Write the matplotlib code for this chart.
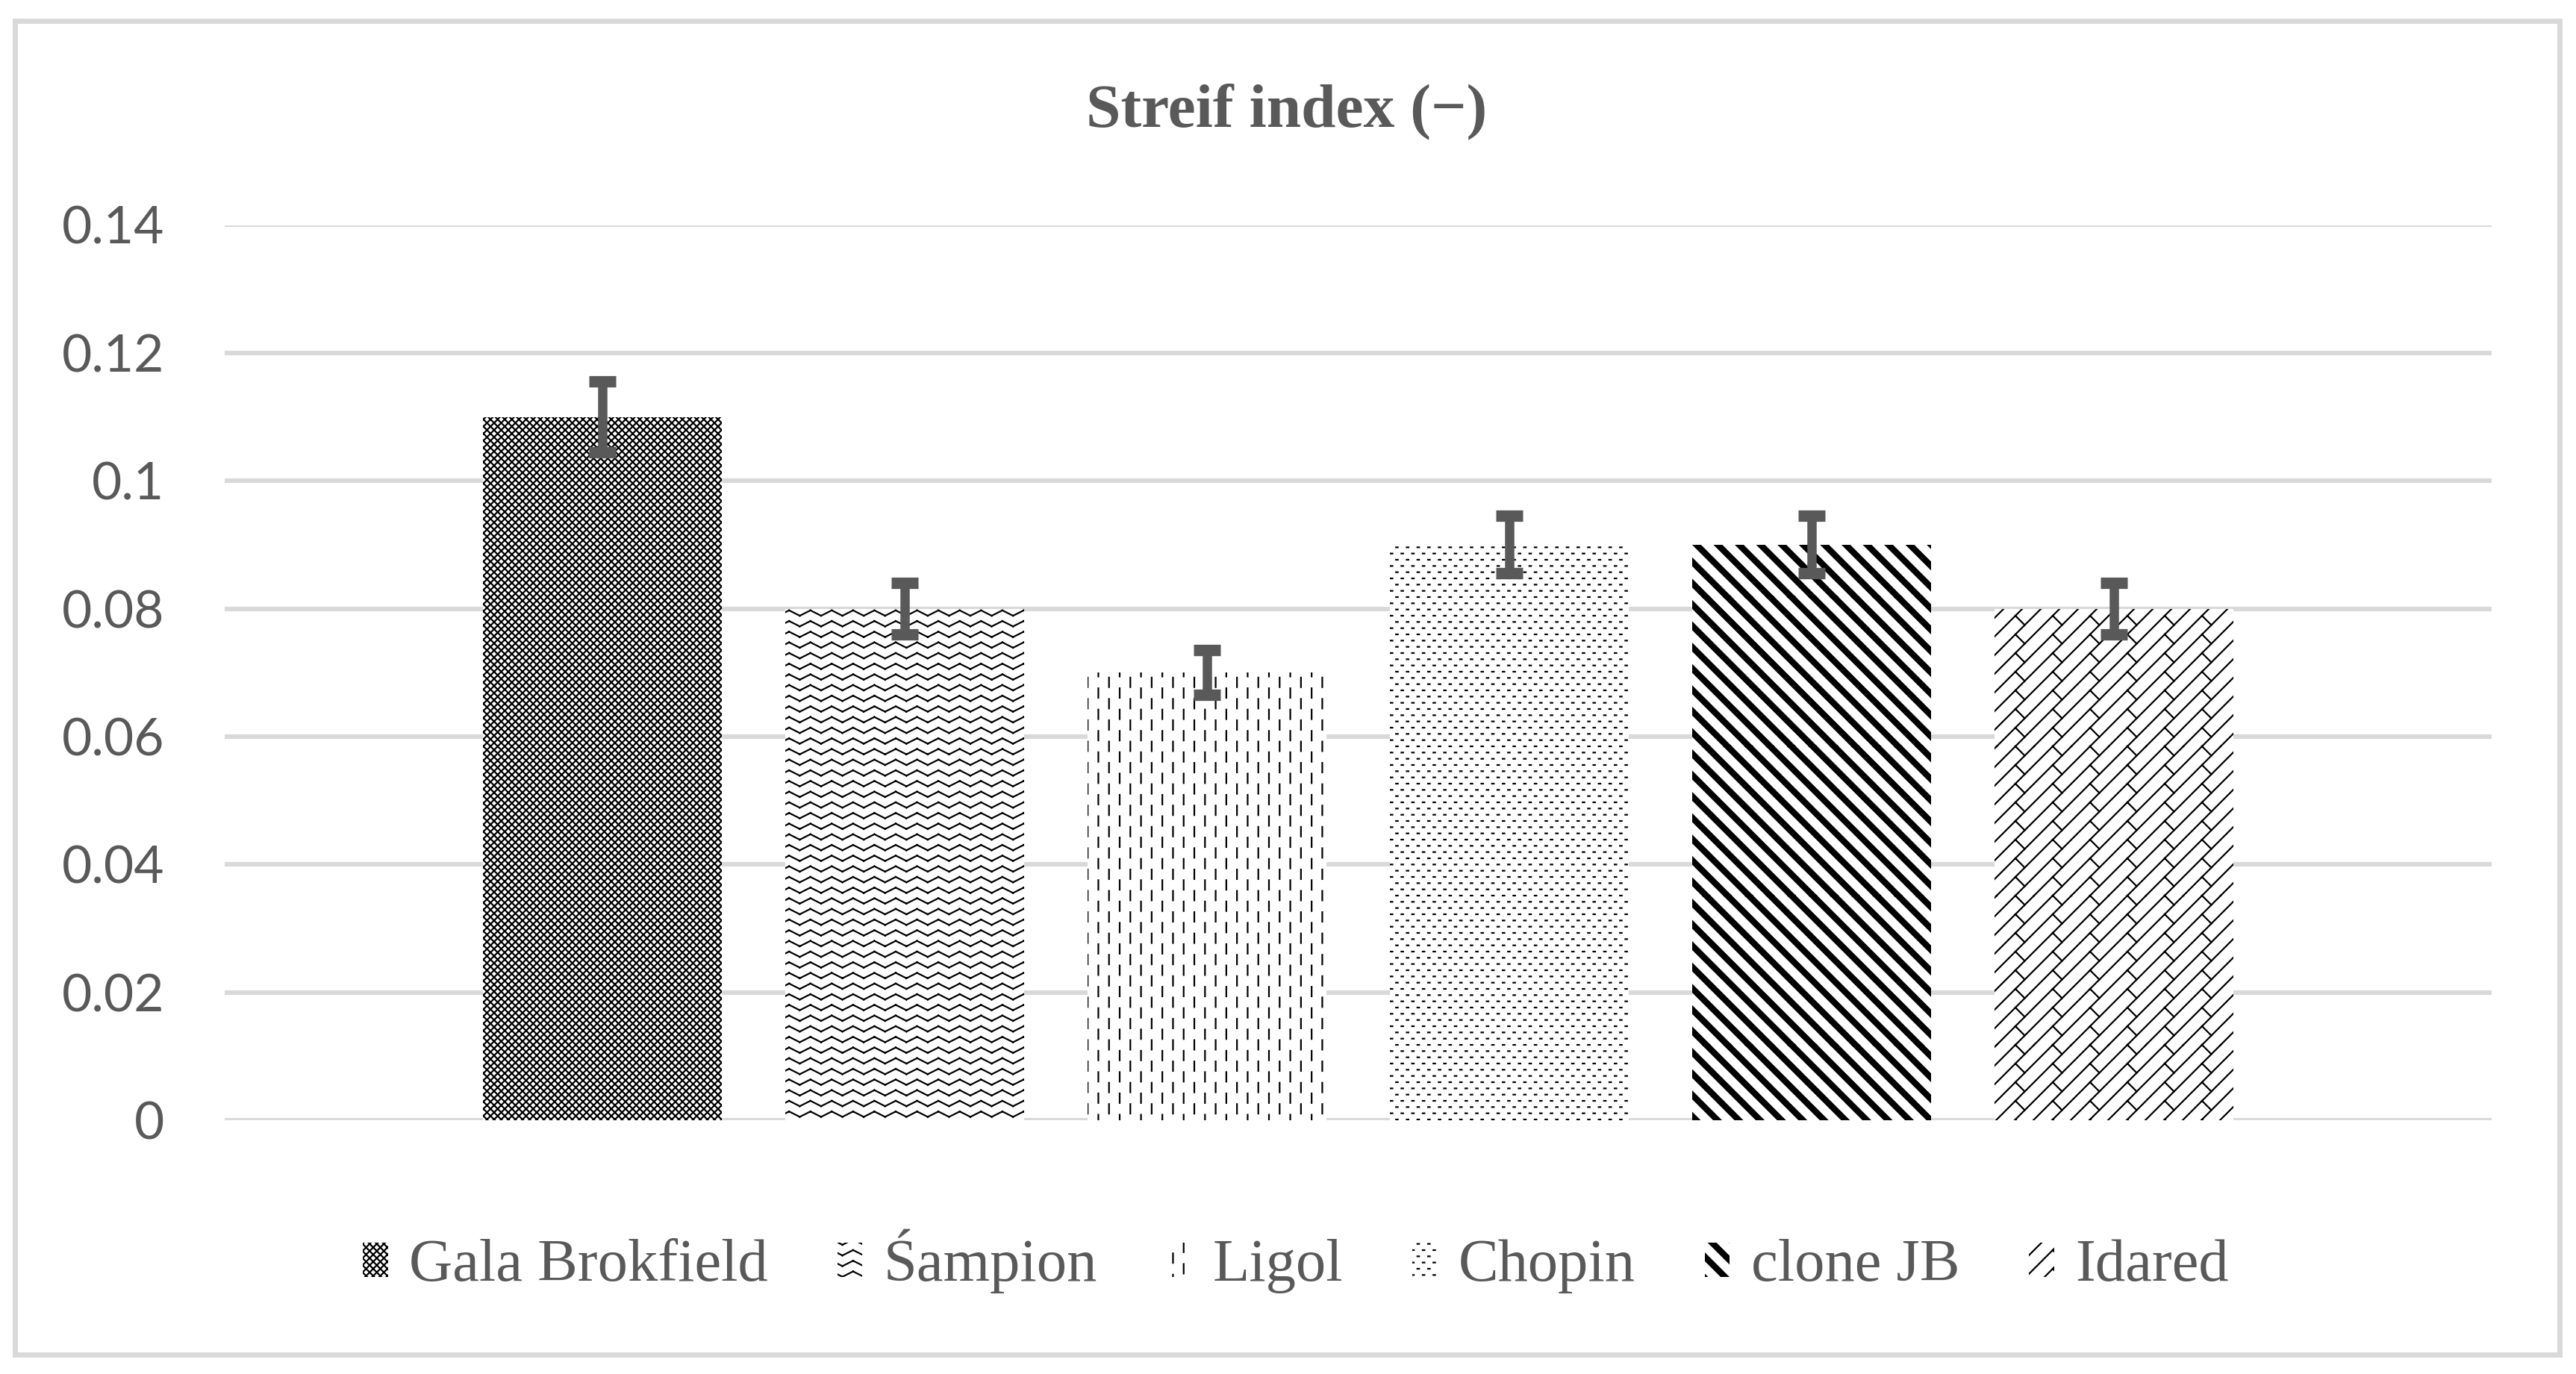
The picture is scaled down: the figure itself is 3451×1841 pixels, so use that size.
import warnings
import numpy as np
import matplotlib
matplotlib.use("Agg")
import matplotlib.pyplot as plt
import matplotlib.hatch as mhatch
from matplotlib.path import Path
from matplotlib.patches import Rectangle

warnings.filterwarnings("ignore")

# data
cultivars = ["Gala Brokfield", "Śampion", "Ligol", "Chopin", "clone JB", "Idared"]
streif = [0.11, 0.08, 0.07, 0.09, 0.09, 0.08]
streif_err = [0.0055, 0.004, 0.0035, 0.0045, 0.0045, 0.004]
yticks = [0, 0.02, 0.04, 0.06, 0.08, 0.1, 0.12, 0.14]
ytick_labels = ["0", "0.02", "0.04", "0.06", "0.08", "0.1", "0.12", "0.14"]
hatches = ["xxxxxxx", "~", ":", ";", "w", "z"]

grey = "#595959"
light = "#d9d9d9"


# --- custom hatch patterns (Excel-like fills) ---
def tile(segs):
    segs = np.asarray(segs, float).reshape(-1, 4)
    out = [segs + [dx, dy, dx, dy] for dx in (-1, 0, 1) for dy in (-1, 0, 1)]
    return np.vstack(out)


def add_hatch(char, maker):
    class CustomHatch(mhatch.HatchPatternBase):
        def __init__(self, hatch, density):
            n = hatch.count(char) if hatch else 0
            self.segs = tile(maker(n)) if n else np.empty((0, 4))
            self.num_vertices = 2 * len(self.segs)

        def set_vertices_and_codes(self, vertices, codes):
            vertices[0::2] = self.segs[:, :2]
            vertices[1::2] = self.segs[:, 2:]
            codes[0::2] = Path.MOVETO
            codes[1::2] = Path.LINETO
    mhatch._hatch_types.append(CustomHatch)


def zigzag(n):
    rows, teeth, amp = 14 * n, 7, 0.018
    segs = []
    for r in range(rows):
        y0 = (r + 0.5) / rows
        for i in range(2 * teeth):
            s0 = 1 if i % 2 == 0 else -1
            segs.append([i / (2 * teeth), y0 + amp * s0,
                         (i + 1) / (2 * teeth), y0 - amp * s0])
    return segs


def dashes(n):
    k, half = 7 * n, 0.032
    segs = []
    for i in range(k):
        for j in range(k):
            for off in (0, 0.5):
                x = (i + off) / k
                y = (j + off) / k
                segs.append([x, y - half, x, y + half])
    return segs


def dots(n):
    cols, rows, d = 14 * n, 24 * n, 0.006
    segs = []
    for r in range(rows):
        off = 0.5 * (r % 2)
        for c in range(cols):
            x = (c + off) / cols
            y = r / rows
            segs.append([x - d, y, x + d, y])
    return segs


def thick_back(n):
    k = 7 * n
    segs = []
    for i in range(k):
        for w in np.linspace(-0.022, 0.022, 7):
            x = i / k + w
            segs.append([x, 1, x + 1, 0])
    return segs


def brick(n):
    k, m = 8 * n, 4 * n
    s = 1 / k
    segs = []
    for i in range(k):
        segs.append([i * s, 0, i * s + 1, 1])
        for j in range(m):
            t = (j + 0.5 * (i % 2)) / m
            x0 = i * s + t
            segs.append([x0, t, x0 + s / 2, t - s / 2])
    return segs


add_hatch("~", zigzag)
add_hatch(":", dashes)
add_hatch(";", dots)
add_hatch("w", thick_back)
add_hatch("z", brick)

plt.rcParams["hatch.linewidth"] = 0.8
plt.rcParams["hatch.color"] = "black"

fig = plt.figure(figsize=(17.255, 9.205), dpi=200)
ax = fig.add_axes([301 / 3451, 1 - 1501 / 1841,
                   (3338 - 301) / 3451, (1501 - 301.5) / 1841])

x = np.arange(len(cultivars))
for i in range(len(cultivars)):
    ax.bar(x[i], streif[i], width=0.79, color="white", edgecolor="black",
           linewidth=0, hatch=hatches[i], label=cultivars[i], zorder=2)

ax.errorbar(x, streif, yerr=streif_err, fmt="none", ecolor=grey,
            elinewidth=4.5, capsize=6.6, capthick=5.5, zorder=3)

ax.set_xlim(-1.25, 6.25)
ax.set_ylim(0, 0.14)
ax.set_yticks(yticks)
ax.set_yticklabels(ytick_labels, family="Lato", fontsize=25, color=grey)
ax.set_xticks([])
ax.tick_params(axis="y", length=0, pad=29)
ax.set_axisbelow(True)
ax.yaxis.grid(True, color=light, linewidth=2.2)
for sp in ax.spines.values():
    sp.set_visible(False)

fig.text(0.4995, 1 - 150 / 1841, "Streif index (−)", ha="center", va="center",
         fontsize=30, fontweight="bold", family="Liberation Serif", color=grey)

fig.legend(loc="center", bbox_to_anchor=(0.503, 1 - 1690 / 1841), ncol=6,
           frameon=False, prop={"family": "Liberation Serif", "size": 29},
           labelcolor=grey, handlelength=0.42, handleheight=0.5,
           handletextpad=0.35, columnspacing=1.15)

fig.add_artist(Rectangle((19.5 / 3451, 1 - 1815 / 1841),
                         (3428.5 - 19.5) / 3451, (1815 - 27.5) / 1841,
                         transform=fig.transFigure, fill=False,
                         edgecolor=light, linewidth=2.5))

fig.savefig("out.png", dpi=200)
